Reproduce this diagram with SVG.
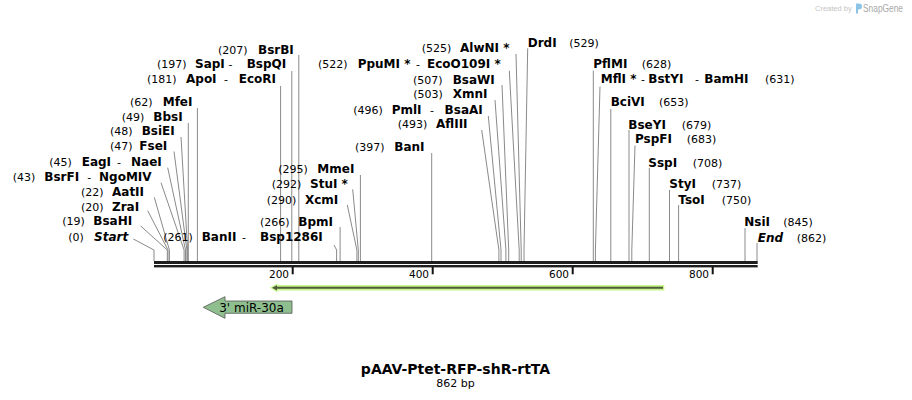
<svg xmlns="http://www.w3.org/2000/svg" width="912" height="400" viewBox="0 0 912 400">
<style>
text{font-family:"DejaVu Sans",Verdana,sans-serif;fill:#000}
.n{font-size:11px}
.b{font-size:12px;font-weight:bold}
.i{font-size:12px;font-weight:bold;font-style:italic}
.ln{stroke:#8a8a8a;stroke-width:1;fill:none}
.tk{stroke:#111;stroke-width:2}
.tl{font-size:10.5px}
</style>
<rect width="912" height="400" fill="#fff"/>
<g id="watermark">
<text x="815" y="11" style="font-size:7.5px;fill:#c4c4c4;font-family:'Liberation Sans',Arial,sans-serif">Created by</text>
<path d="M856,3.5 h3 a3,3 0 0 1 0,6 h-1 v4 h-2 z" fill="#8cc4e8"/>
<text x="863" y="12" textLength="40" lengthAdjust="spacingAndGlyphs" style="font-size:10px;fill:#a8a8a8;font-family:'Liberation Sans',Arial,sans-serif">SnapGene</text>
</g>
<g id="connectors">
<polyline class="ln" points="298.8,55 298.8,261"/>
<polyline class="ln" points="291.8,71 291.8,261"/>
<polyline class="ln" points="280.6,86 280.6,261"/>
<polyline class="ln" points="197.4,108 197.4,261"/>
<polyline class="ln" points="188.3,123 188.3,261"/>
<polyline class="ln" points="181,137 187.6,250 187.6,261"/>
<polyline class="ln" points="174,151.5 186.9,250 186.9,261"/>
<polyline class="ln" points="167.7,167.7 185.5,250 185.5,261"/>
<polyline class="ln" points="161,182.7 184.1,250 184.1,261"/>
<polyline class="ln" points="154.3,197.3 169.4,250 169.4,261"/>
<polyline class="ln" points="147.7,210.7 168,250 168,261"/>
<polyline class="ln" points="140.7,226 167.3,250 167.3,261"/>
<polyline class="ln" points="133.3,239 154,250 154,261"/>
<polyline class="ln" points="334,245 336.6,250 336.6,261"/>
<polyline class="ln" points="340.1,227 340.1,261"/>
<polyline class="ln" points="347.3,205 356.9,250 356.9,261"/>
<polyline class="ln" points="352.7,189.3 358.3,250 358.3,261"/>
<polyline class="ln" points="360.4,175 360.4,261"/>
<polyline class="ln" points="431.7,153 431.7,261"/>
<polyline class="ln" points="481.7,130 498.9,250 498.9,261"/>
<polyline class="ln" points="488.3,116 501,250 501,261"/>
<polyline class="ln" points="495,100 505.9,250 505.9,261"/>
<polyline class="ln" points="502,85 508.7,250 508.7,261"/>
<polyline class="ln" points="509.3,70.7 519.2,250 519.2,261"/>
<polyline class="ln" points="516,54 521.2,250 521.2,261"/>
<polyline class="ln" points="527.7,48.3 524,250 524,261"/>
<polyline class="ln" points="593.3,70.7 593.3,261"/>
<polyline class="ln" points="600,86.7 595.4,250 595.4,261"/>
<polyline class="ln" points="610.8,109 610.8,261"/>
<polyline class="ln" points="629,130 629,261"/>
<polyline class="ln" points="635,145.5 631.8,250 631.8,261"/>
<polyline class="ln" points="649.3,168 649.3,261"/>
<polyline class="ln" points="669.5,190 669.5,261"/>
<polyline class="ln" points="678.6,205 678.6,261"/>
<polyline class="ln" points="745,228 745,261"/>
<polyline class="ln" points="757,243 757,261"/>
</g>
<g id="ruler">
<rect x="154" y="261" width="603.7" height="3" fill="#1e1e1e"/>
<rect x="154" y="265" width="603.7" height="2.4" fill="#1e1e1e"/>
<line class="tk" x1="292.7" y1="267" x2="292.7" y2="274.3"/>
<line class="tk" x1="432.7" y1="267" x2="432.7" y2="274.3"/>
<line class="tk" x1="572.7" y1="267" x2="572.7" y2="274.3"/>
<line class="tk" x1="712.7" y1="267" x2="712.7" y2="274.3"/>
<text class="tl" x="289" y="277.5" text-anchor="end">200</text>
<text class="tl" x="429" y="277.5" text-anchor="end">400</text>
<text class="tl" x="569" y="277.5" text-anchor="end">600</text>
<text class="tl" x="709" y="277.5" text-anchor="end">800</text>
</g>
<g id="orf">
<path d="M270,287.8 L277.5,283.2 L277.5,285.1 L664.3,285.1 L664.3,290.6 L277.5,290.6 L277.5,292.4 Z" fill="#c6f58c"/>
<line x1="276" y1="287.8" x2="663" y2="287.8" stroke="#4f5a3a" stroke-width="2"/>
<path d="M272,287.8 L277,285.2 L277,290.4 Z" fill="#4f5a3a"/>
</g>
<g id="feature-miR30a">
<path d="M203.3,307.3 L225,296.7 L225,301 L292,301 L292,313.3 L225,313.3 L225,318.3 Z" fill="#8fbf8f" stroke="#555" stroke-width="0.8"/>
<text x="251.5" y="311.5" text-anchor="middle" style="font-size:12px">3' miR-30a</text>
</g>
<g id="BsrBI"><text y="53.6"><tspan class="n" x="218">(207)</tspan><tspan class="b" x="258">BsrBI</tspan></text></g>
<g id="SapI"><text y="68.3"><tspan class="n" x="157">(197)</tspan><tspan class="b" x="195">SapI</tspan><tspan class="n" x="228.5">-</tspan><tspan class="b" x="246.7">BspQI</tspan></text></g>
<g id="ApoI"><text y="83.3"><tspan class="n" x="147">(181)</tspan><tspan class="b" x="186">ApoI</tspan><tspan class="n" x="224">-</tspan><tspan class="b" x="238.7">EcoRI</tspan></text></g>
<g id="MfeI"><text y="106"><tspan class="n" x="130">(62)</tspan><tspan class="b" x="162.7">MfeI</tspan></text></g>
<g id="BbsI"><text y="121.3"><tspan class="n" x="121.7">(49)</tspan><tspan class="b" x="153.3">BbsI</tspan></text></g>
<g id="BsiEI"><text y="135"><tspan class="n" x="110">(48)</tspan><tspan class="b" x="141.7">BsiEI</tspan></text></g>
<g id="FseI"><text y="149.8"><tspan class="n" x="110">(47)</tspan><tspan class="b" x="139.3">FseI</tspan></text></g>
<g id="EagI"><text y="165.8"><tspan class="n" x="49.3">(45)</tspan><tspan class="b" x="81.7">EagI</tspan><tspan class="n" x="117">-</tspan><tspan class="b" x="131">NaeI</tspan></text></g>
<g id="BsrFI"><text y="181"><tspan class="n" x="12.7">(43)</tspan><tspan class="b" x="44.3">BsrFI</tspan><tspan class="n" x="87.3">-</tspan><tspan class="b" x="99">NgoMIV</tspan></text></g>
<g id="AatII"><text y="196"><tspan class="n" x="81">(22)</tspan><tspan class="b" x="112">AatII</tspan></text></g>
<g id="ZraI"><text y="211"><tspan class="n" x="81">(20)</tspan><tspan class="b" x="112">ZraI</tspan></text></g>
<g id="BsaHI"><text y="225.3"><tspan class="n" x="62.3">(19)</tspan><tspan class="b" x="93.3">BsaHI</tspan></text></g>
<g id="Start"><text y="241.3"><tspan class="n" x="68.3">(0)</tspan><tspan class="i" x="94">Start</tspan></text></g>
<g id="BanII"><text y="241.3"><tspan class="n" x="163.3">(261)</tspan><tspan class="b" x="201.7">BanII</tspan><tspan class="n" x="242">-</tspan><tspan class="b" x="260">Bsp1286I</tspan></text></g>
<g id="BpmI"><text y="226"><tspan class="n" x="260">(266)</tspan><tspan class="b" x="298.3">BpmI</tspan></text></g>
<g id="XcmI"><text y="203.6"><tspan class="n" x="266.7">(290)</tspan><tspan class="b" x="305">XcmI</tspan></text></g>
<g id="StuI"><text y="188.3"><tspan class="n" x="271.7">(292)</tspan><tspan class="b" x="310">StuI *</tspan></text></g>
<g id="MmeI"><text y="173.3"><tspan class="n" x="278.3">(295)</tspan><tspan class="b" x="317.3">MmeI</tspan></text></g>
<g id="BanI"><text y="151"><tspan class="n" x="355">(397)</tspan><tspan class="b" x="394.3">BanI</tspan></text></g>
<g id="AflIII"><text y="128.3"><tspan class="n" x="397.7">(493)</tspan><tspan class="b" x="436">AflIII</tspan></text></g>
<g id="PmlI"><text y="113.6"><tspan class="n" x="353.3">(496)</tspan><tspan class="b" x="391.7">PmlI</tspan><tspan class="n" x="430">-</tspan><tspan class="b" x="444.6">BsaAI</tspan></text></g>
<g id="XmnI"><text y="98.3"><tspan class="n" x="413.3">(503)</tspan><tspan class="b" x="452.7">XmnI</tspan></text></g>
<g id="BsaWI"><text y="83.6"><tspan class="n" x="413">(507)</tspan><tspan class="b" x="452.7">BsaWI</tspan></text></g>
<g id="PpuMI"><text y="67.6"><tspan class="n" x="318">(522)</tspan><tspan class="b" x="357.7">PpuMI *</tspan><tspan class="n" x="416">-</tspan><tspan class="b" x="427">EcoO109I *</tspan></text></g>
<g id="AlwNI"><text y="51.6"><tspan class="n" x="421.7">(525)</tspan><tspan class="b" x="460">AlwNI *</tspan></text></g>
<g id="DrdI"><text y="47"><tspan class="b" x="527.7">DrdI</tspan><tspan class="n" x="569.3">(529)</tspan></text></g>
<g id="PflMI"><text y="67.6"><tspan class="b" x="593.3">PflMI</tspan><tspan class="n" x="641.7">(628)</tspan></text></g>
<g id="MflI"><text y="83.3"><tspan class="b" x="600.7">MflI *</tspan><tspan class="n" x="641">-</tspan><tspan class="b" x="648.3">BstYI</tspan><tspan class="n" x="695">-</tspan><tspan class="b" x="704.3">BamHI</tspan><tspan class="n" x="765">(631)</tspan></text></g>
<g id="BciVI"><text y="106"><tspan class="b" x="610.7">BciVI</tspan><tspan class="n" x="659">(653)</tspan></text></g>
<g id="BseYI"><text y="128.6"><tspan class="b" x="628.3">BseYI</tspan><tspan class="n" x="681.7">(679)</tspan></text></g>
<g id="PspFI"><text y="143.3"><tspan class="b" x="635">PspFI</tspan><tspan class="n" x="686.7">(683)</tspan></text></g>
<g id="SspI"><text y="166.6"><tspan class="b" x="648.3">SspI</tspan><tspan class="n" x="692.7">(708)</tspan></text></g>
<g id="StyI"><text y="188.3"><tspan class="b" x="669.3">StyI</tspan><tspan class="n" x="711.7">(737)</tspan></text></g>
<g id="TsoI"><text y="203.6"><tspan class="b" x="678.3">TsoI</tspan><tspan class="n" x="721.7">(750)</tspan></text></g>
<g id="NsiI"><text y="226"><tspan class="b" x="744.3">NsiI</tspan><tspan class="n" x="783.3">(845)</tspan></text></g>
<g id="End"><text y="241.6"><tspan class="i" x="757.7">End</tspan><tspan class="n" x="796.7">(862)</tspan></text></g>
<g id="title">
<text x="455.5" y="374" text-anchor="middle" style="font-size:14px;font-weight:bold">pAAV-Ptet-RFP-shR-rtTA</text>
<text x="455.5" y="386.5" text-anchor="middle" style="font-size:11px">862 bp</text>
</g>
</svg>
